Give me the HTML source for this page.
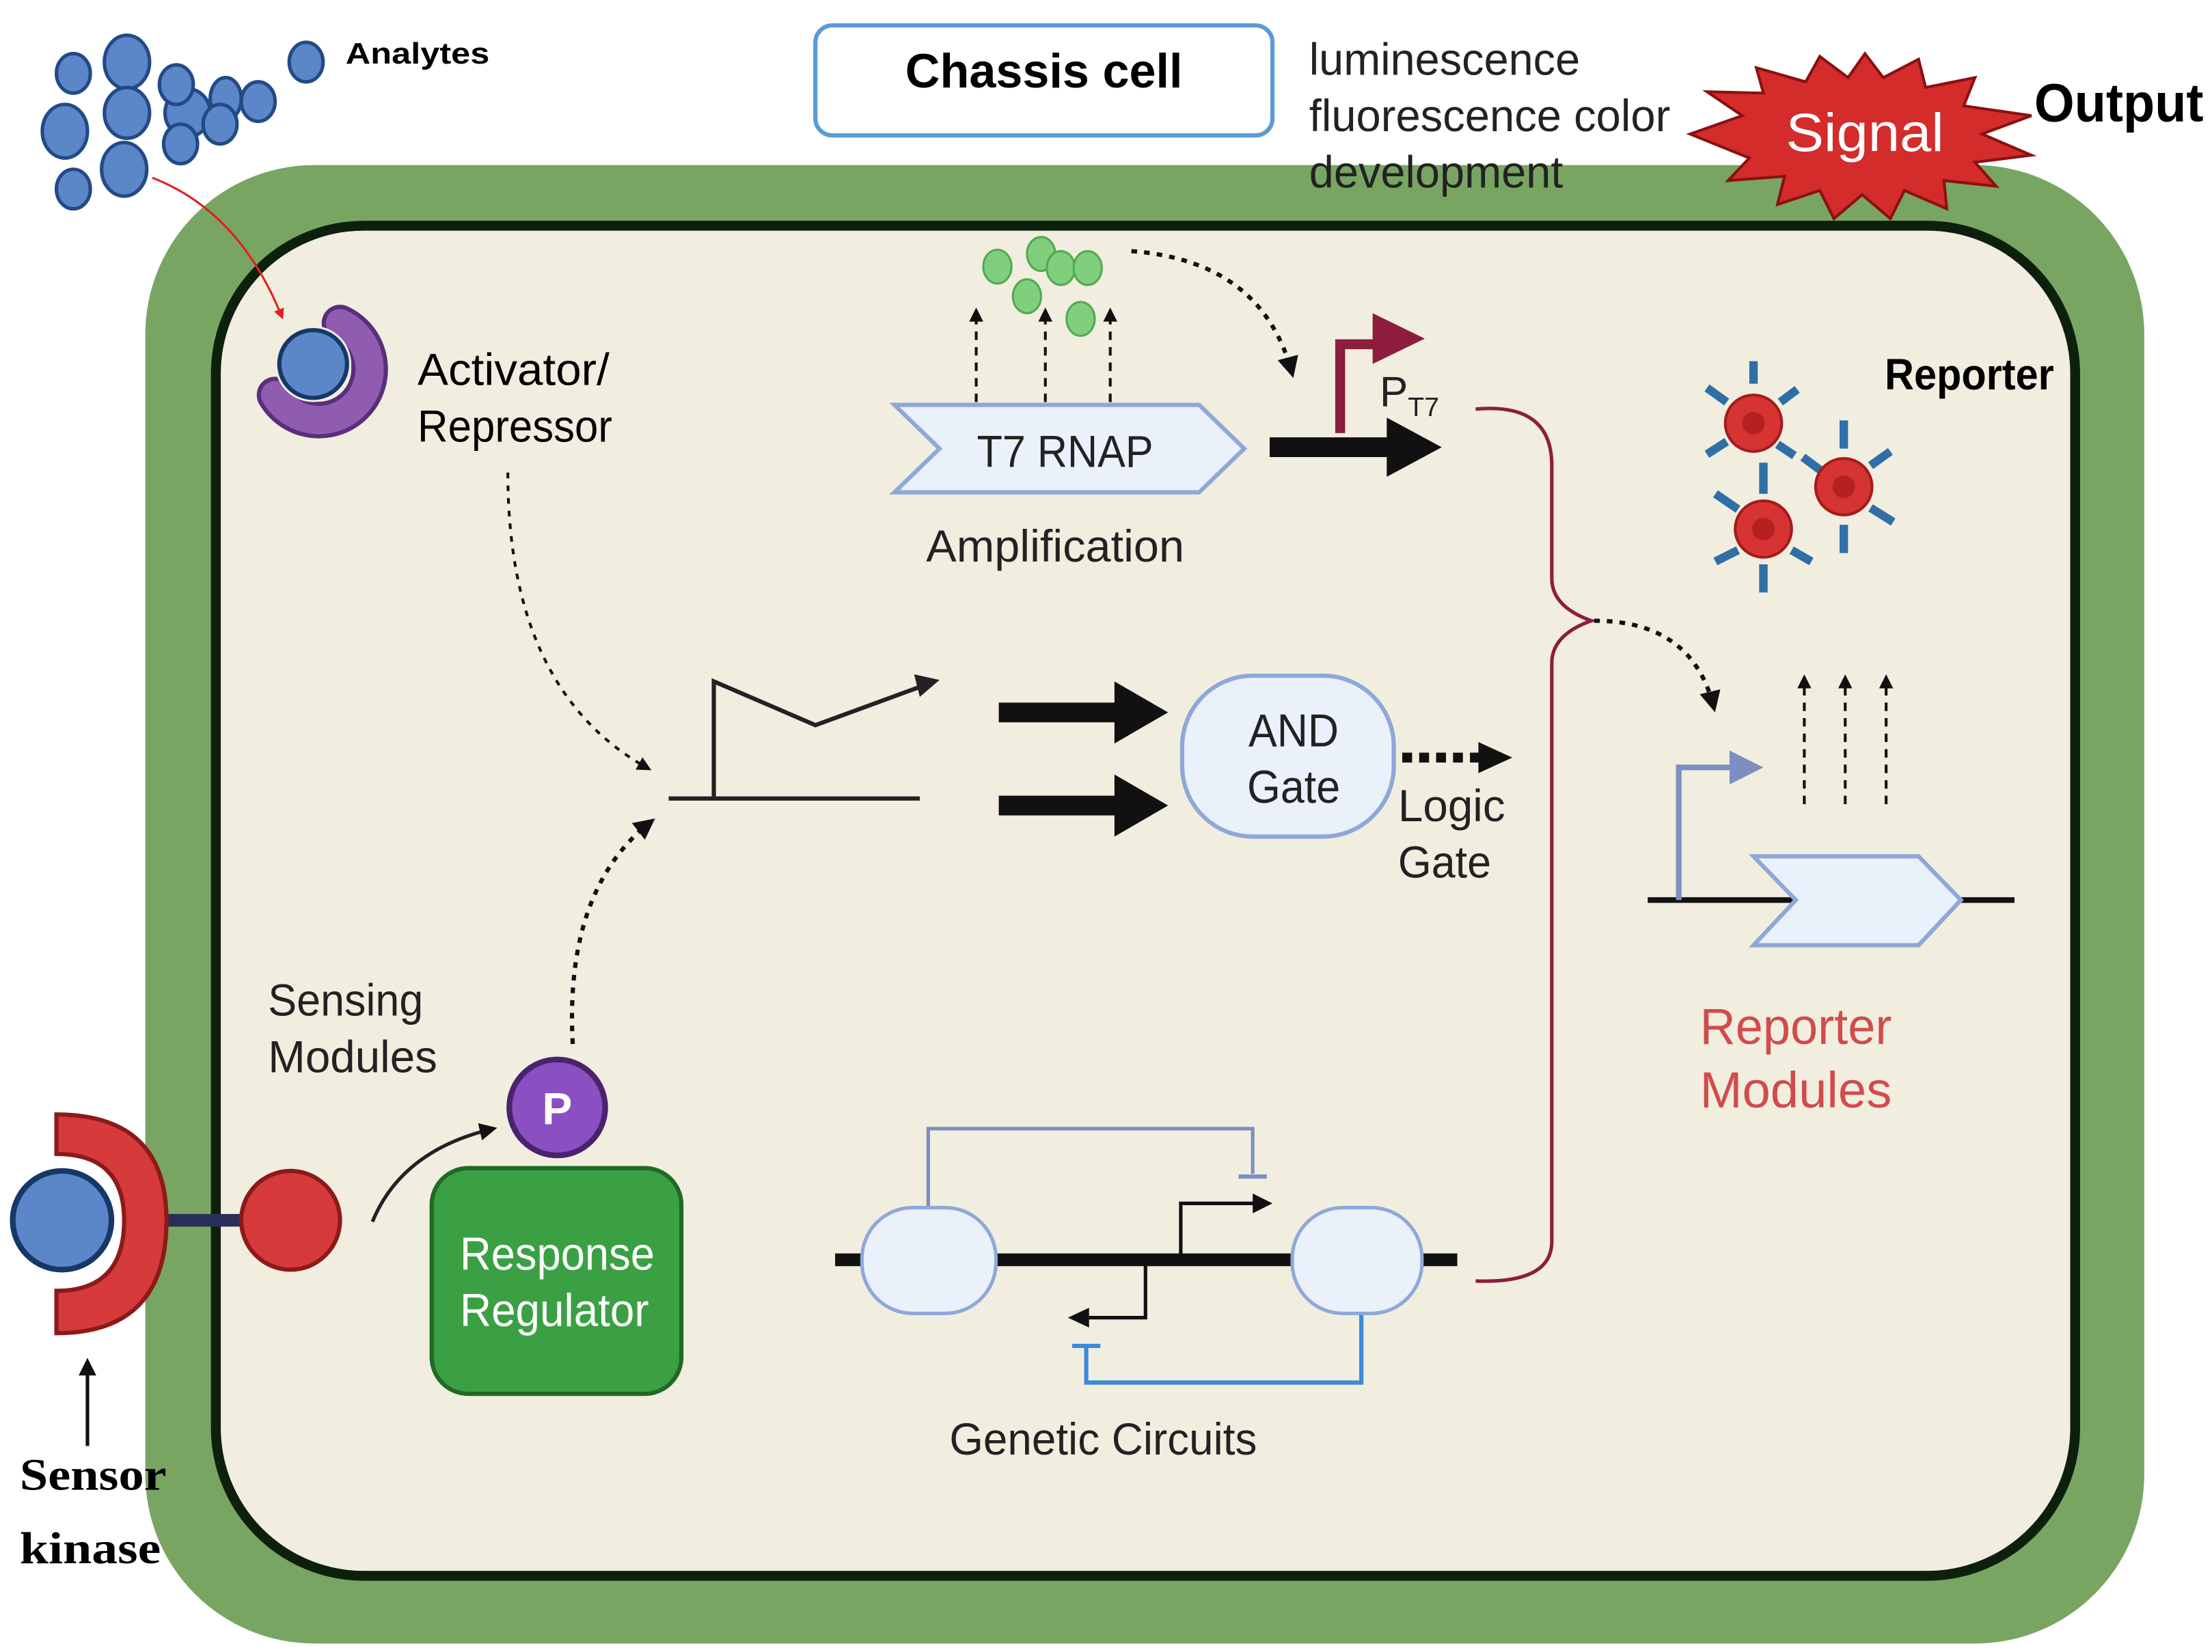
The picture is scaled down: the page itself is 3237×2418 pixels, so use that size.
<!DOCTYPE html>
<html><head><meta charset="utf-8"><style>
html,body{margin:0;padding:0;background:#fff;}
svg{display:block;}
text{font-family:"Liberation Sans",sans-serif;}
</style></head><body>
<svg width="3237" height="2418" viewBox="0 0 1568 1171" preserveAspectRatio="none" xmlns="http://www.w3.org/2000/svg">
<defs>
<marker id="ah" viewBox="0 0 10 10" refX="8" refY="5" markerWidth="5" markerHeight="5" orient="auto"><path d="M0,0 L10,5 L0,10 z" fill="#111"/></marker>
<marker id="ahr" viewBox="0 0 10 10" refX="8" refY="5" markerWidth="5" markerHeight="5" orient="auto"><path d="M0,0 L10,5 L0,10 z" fill="#e02020"/></marker>
</defs>
<rect width="1568" height="1171" fill="#fff"/>
<!-- cell -->
<rect x="103" y="117" width="1417" height="1048" rx="120" fill="#79a563"/>
<rect x="153" y="160" width="1318" height="957" rx="105" fill="#f1eee0" stroke="#0d200d" stroke-width="7"/>
<!-- analytes -->
<g fill="#5b86c8" stroke="#234a86" stroke-width="2.5">
<ellipse cx="52" cy="52" rx="12" ry="14"/><ellipse cx="90" cy="44" rx="16" ry="19"/>
<ellipse cx="46" cy="93" rx="16" ry="19"/><ellipse cx="90" cy="80" rx="16" ry="18"/>
<ellipse cx="88" cy="120" rx="16" ry="19"/><ellipse cx="52" cy="134" rx="12" ry="14"/>
<ellipse cx="133" cy="80" rx="16" ry="17"/><ellipse cx="125" cy="60" rx="12" ry="14"/>
<ellipse cx="160" cy="70" rx="11" ry="15"/><ellipse cx="183" cy="72" rx="12" ry="14"/>
<ellipse cx="156" cy="88" rx="12" ry="14"/><ellipse cx="128" cy="102" rx="12" ry="14"/>
<ellipse cx="217" cy="44" rx="12" ry="14"/>
</g>
<text x="245" y="45" font-size="21" font-weight="bold" textLength="102" lengthAdjust="spacingAndGlyphs">Analytes</text>
<path d="M108,126 Q170,150 200,225" fill="none" stroke="#e02020" stroke-width="1.5" marker-end="url(#ahr)"/>
<!-- activator -->
<path d="M241,229 A36,36 0 1 1 195,280" fill="none" stroke="#5a2e7a" stroke-width="26" stroke-linecap="round"/>
<path d="M241,229 A36,36 0 1 1 195,280" fill="none" stroke="#8f5cb0" stroke-width="20" stroke-linecap="round"/>
<circle cx="222" cy="258" r="27" fill="#f1eee0"/>
<circle cx="222" cy="258" r="24" fill="#5b86c8" stroke="#163868" stroke-width="3"/>
<text x="296" y="273" font-size="32" textLength="136" lengthAdjust="spacingAndGlyphs">Activator/</text>
<text x="296" y="313" font-size="32" textLength="138" lengthAdjust="spacingAndGlyphs">Repressor</text>
<!-- chassis -->
<rect x="578" y="18" width="324" height="78" rx="12" fill="#fff" stroke="#5a9bd5" stroke-width="3"/>
<text x="740" y="62" font-size="34" font-weight="bold" text-anchor="middle">Chassis cell</text>
<text x="928" y="53" font-size="32" fill="#222" textLength="192" lengthAdjust="spacingAndGlyphs">luminescence</text>
<text x="928" y="93" font-size="32" fill="#222" textLength="256" lengthAdjust="spacingAndGlyphs">fluorescence color</text>
<text x="928" y="133" font-size="32" fill="#222" textLength="180" lengthAdjust="spacingAndGlyphs">development</text>
<!-- signal -->
<polygon points="1198,95 1235,82 1210,65 1250,66 1245,48 1280,58 1290,40 1310,55 1322,38 1335,55 1360,42 1365,62 1400,55 1392,75 1440,82 1405,95 1440,110 1400,115 1415,132 1378,128 1380,148 1350,135 1340,155 1320,138 1300,155 1290,135 1260,145 1265,125 1225,128 1240,112" fill="#d42b2b" stroke="#8a1111" stroke-width="2"/>
<text x="1322" y="107" font-size="38" fill="#fff" text-anchor="middle" textLength="112" lengthAdjust="spacingAndGlyphs">Signal</text>
<text x="1442" y="86" font-size="38" font-weight="bold" textLength="120" lengthAdjust="spacingAndGlyphs">Output</text>
<!-- amplification -->
<g fill="#7fcf7c" stroke="#55a852" stroke-width="1.5">
<ellipse cx="707" cy="189" rx="10" ry="12"/><ellipse cx="738" cy="180" rx="10" ry="12"/>
<ellipse cx="752" cy="190" rx="10" ry="12"/><ellipse cx="771" cy="190" rx="10" ry="12"/>
<ellipse cx="728" cy="210" rx="10" ry="12"/><ellipse cx="766" cy="226" rx="10" ry="12"/>
</g>
<g stroke="#111" stroke-width="2" stroke-dasharray="6,5"><line x1="692" y1="285" x2="692" y2="220" marker-end="url(#ah)"/><line x1="741" y1="285" x2="741" y2="220" marker-end="url(#ah)"/><line x1="787" y1="285" x2="787" y2="220" marker-end="url(#ah)"/></g>
<path d="M802,178 Q895,185 916,265" fill="none" stroke="#111" stroke-width="3" stroke-dasharray="4,5" marker-end="url(#ah)"/>
<polygon points="634,287 850,287 882,318 850,349 634,349 666,318" fill="#eaf1fb" stroke="#8ea8d8" stroke-width="3"/>
<text x="755" y="331" font-size="32" text-anchor="middle" fill="#222" textLength="125" lengthAdjust="spacingAndGlyphs">T7 RNAP</text>
<text x="748" y="398" font-size="32" text-anchor="middle" fill="#222" textLength="183" lengthAdjust="spacingAndGlyphs">Amplification</text>
<line x1="900" y1="317" x2="990" y2="317" stroke="#111" stroke-width="14"/>
<polygon points="983,296 1022,317 983,338" fill="#111"/>
<path d="M950,307 V244 H975" fill="none" stroke="#8e1d3d" stroke-width="7"/>
<polygon points="973,222 1010,240 973,258" fill="#8e1d3d"/>
<text x="978" y="288" font-size="30" fill="#222">P</text><text x="998" y="295" font-size="19" fill="#222">T7</text>
<!-- brace -->
<path d="M1046,290 Q1100,285 1100,330 V410 Q1100,430 1128,440 Q1100,450 1100,470 V880 Q1100,910 1046,908" fill="none" stroke="#8e1d3d" stroke-width="2.5"/>
<path d="M1130,440 Q1200,440 1215,502" fill="none" stroke="#111" stroke-width="3" stroke-dasharray="4,5" marker-end="url(#ah)"/>
<!-- reporters -->
<g stroke="#2f6fa6" stroke-width="6">
<line x1="1243" y1="256" x2="1243" y2="272"/><line x1="1210" y1="275" x2="1224" y2="285"/><line x1="1274" y1="276" x2="1262" y2="285"/><line x1="1210" y1="322" x2="1224" y2="313"/><line x1="1272" y1="323" x2="1260" y2="315"/>
<line x1="1307" y1="298" x2="1307" y2="318"/><line x1="1340" y1="320" x2="1326" y2="330"/><line x1="1342" y1="370" x2="1326" y2="360"/><line x1="1307" y1="392" x2="1307" y2="372"/><line x1="1278" y1="324" x2="1290" y2="333"/>
<line x1="1250" y1="328" x2="1250" y2="350"/><line x1="1216" y1="350" x2="1232" y2="361"/><line x1="1216" y1="398" x2="1232" y2="390"/><line x1="1250" y1="420" x2="1250" y2="400"/><line x1="1284" y1="398" x2="1270" y2="390"/>
</g>
<g fill="#d63333" stroke="#a51b1b" stroke-width="2">
<circle cx="1243" cy="300" r="20"/><circle cx="1307" cy="345" r="20"/><circle cx="1250" cy="375" r="20"/>
</g>
<g fill="#b52020"><circle cx="1243" cy="300" r="8"/><circle cx="1307" cy="345" r="8"/><circle cx="1250" cy="375" r="8"/></g>
<text x="1336" y="276" font-size="31" font-weight="bold" textLength="120" lengthAdjust="spacingAndGlyphs">Reporter</text>
<g stroke="#111" stroke-width="2" stroke-dasharray="6,5"><line x1="1279" y1="570" x2="1279" y2="480" marker-end="url(#ah)"/><line x1="1308" y1="570" x2="1308" y2="480" marker-end="url(#ah)"/><line x1="1337" y1="570" x2="1337" y2="480" marker-end="url(#ah)"/></g>
<line x1="1168" y1="638" x2="1428" y2="638" stroke="#111" stroke-width="4"/>
<path d="M1190,638 V544 H1230" fill="none" stroke="#7b8fc0" stroke-width="4"/>
<polygon points="1226,532 1250,544 1226,556" fill="#7b8fc0"/>
<polygon points="1243,607 1360,607 1390,638 1360,670 1243,670 1273,638" fill="#eaf1fb" stroke="#8ea8d8" stroke-width="3"/>
<text x="1205" y="740" font-size="36" fill="#d24b4b" textLength="136" lengthAdjust="spacingAndGlyphs">Reporter</text>
<text x="1205" y="785" font-size="36" fill="#d24b4b" textLength="136" lengthAdjust="spacingAndGlyphs">Modules</text>
<!-- middle logic -->
<path d="M360,335 Q360,490 460,545" fill="none" stroke="#111" stroke-width="2" stroke-dasharray="4,5" marker-end="url(#ah)"/>
<path d="M406,740 Q400,630 462,582" fill="none" stroke="#111" stroke-width="3" stroke-dasharray="4,5" marker-end="url(#ah)"/>
<line x1="474" y1="566" x2="652" y2="566" stroke="#222" stroke-width="3"/>
<path d="M506,566 V483 L578,514 L660,484" fill="none" stroke="#222" stroke-width="3"/>
<polygon points="648,478 666,482 652,494" fill="#222"/>
<line x1="708" y1="505" x2="795" y2="505" stroke="#111" stroke-width="14"/><polygon points="790,483 828,505 790,527" fill="#111"/>
<line x1="708" y1="571" x2="795" y2="571" stroke="#111" stroke-width="14"/><polygon points="790,549 828,571 790,593" fill="#111"/>
<rect x="838" y="479" width="150" height="114" rx="50" fill="#eaf1fb" stroke="#8ea8d8" stroke-width="3"/>
<text x="917" y="529" font-size="33" text-anchor="middle" fill="#222" textLength="64" lengthAdjust="spacingAndGlyphs">AND</text>
<text x="917" y="569" font-size="33" text-anchor="middle" fill="#222" textLength="66" lengthAdjust="spacingAndGlyphs">Gate</text>
<line x1="994" y1="537" x2="1050" y2="537" stroke="#111" stroke-width="7" stroke-dasharray="7,5"/><polygon points="1048,526 1072,537 1048,548" fill="#111"/>
<text x="991" y="582" font-size="32" fill="#222" textLength="76" lengthAdjust="spacingAndGlyphs">Logic</text>
<text x="991" y="622" font-size="32" fill="#222" textLength="66" lengthAdjust="spacingAndGlyphs">Gate</text>
<!-- sensing -->
<text x="190" y="720" font-size="32" fill="#222" textLength="110" lengthAdjust="spacingAndGlyphs">Sensing</text>
<text x="190" y="760" font-size="32" fill="#222" textLength="120" lengthAdjust="spacingAndGlyphs">Modules</text>
<line x1="115" y1="865" x2="180" y2="865" stroke="#2a2f5a" stroke-width="9"/>
<path d="M40,790 Q118,790 118,865 Q118,945 40,945 L40,915 Q88,915 88,865 Q88,818 40,818 Z" fill="#d63a3a" stroke="#8c1a1a" stroke-width="3"/>
<circle cx="44" cy="865" r="35" fill="#5b86c8" stroke="#163868" stroke-width="4"/>
<circle cx="206" cy="865" r="35" fill="#d63a3a" stroke="#8c1a1a" stroke-width="3"/>
<line x1="62" y1="1025" x2="62" y2="965" stroke="#111" stroke-width="2.5" marker-end="url(#ah)"/>
<text x="14" y="1056" font-size="32" font-weight="bold" textLength="104" lengthAdjust="spacingAndGlyphs" style="font-family:'Liberation Serif',serif">Sensor</text>
<text x="14" y="1108" font-size="32" font-weight="bold" textLength="100" lengthAdjust="spacingAndGlyphs" style="font-family:'Liberation Serif',serif">kinase</text>
<path d="M264,866 Q285,815 350,800" fill="none" stroke="#222" stroke-width="2.5" marker-end="url(#ah)"/>
<rect x="306" y="828" width="177" height="160" rx="26" fill="#3aa043" stroke="#1f6a25" stroke-width="3"/>
<text x="395" y="900" font-size="33" fill="#fff" text-anchor="middle" textLength="138" lengthAdjust="spacingAndGlyphs">Response</text>
<text x="393" y="940" font-size="33" fill="#fff" text-anchor="middle" textLength="134" lengthAdjust="spacingAndGlyphs">Regulator</text>
<circle cx="395" cy="785" r="34" fill="#8a4fc0" stroke="#4a226e" stroke-width="4"/>
<text x="395" y="797" font-size="32" fill="#fff" text-anchor="middle" font-weight="bold">P</text>
<!-- genetic circuits -->
<line x1="592" y1="893" x2="1033" y2="893" stroke="#111" stroke-width="9"/>
<path d="M658,858 V800 H888 V832" fill="none" stroke="#7b8fc0" stroke-width="2.5"/><line x1="878" y1="834" x2="898" y2="834" stroke="#7b8fc0" stroke-width="3"/>
<path d="M965,930 V980 H770 V955" fill="none" stroke="#3a8ad8" stroke-width="3"/><line x1="760" y1="954" x2="780" y2="954" stroke="#3a8ad8" stroke-width="3"/>
<path d="M837,889 V853 H890" fill="none" stroke="#111" stroke-width="2.5"/><polygon points="888,846 902,853 888,860" fill="#111"/>
<path d="M812,897 V934 H770" fill="none" stroke="#111" stroke-width="2.5"/><polygon points="772,927 757,934 772,941" fill="#111"/>
<rect x="611" y="856" width="95" height="75" rx="36" fill="#eaf1fb" stroke="#8ea8d8" stroke-width="2.5"/>
<rect x="916" y="856" width="92" height="75" rx="36" fill="#eaf1fb" stroke="#8ea8d8" stroke-width="2.5"/>
<text x="782" y="1031" font-size="32" fill="#222" text-anchor="middle" textLength="218" lengthAdjust="spacingAndGlyphs">Genetic Circuits</text>
</svg>
</body></html>
